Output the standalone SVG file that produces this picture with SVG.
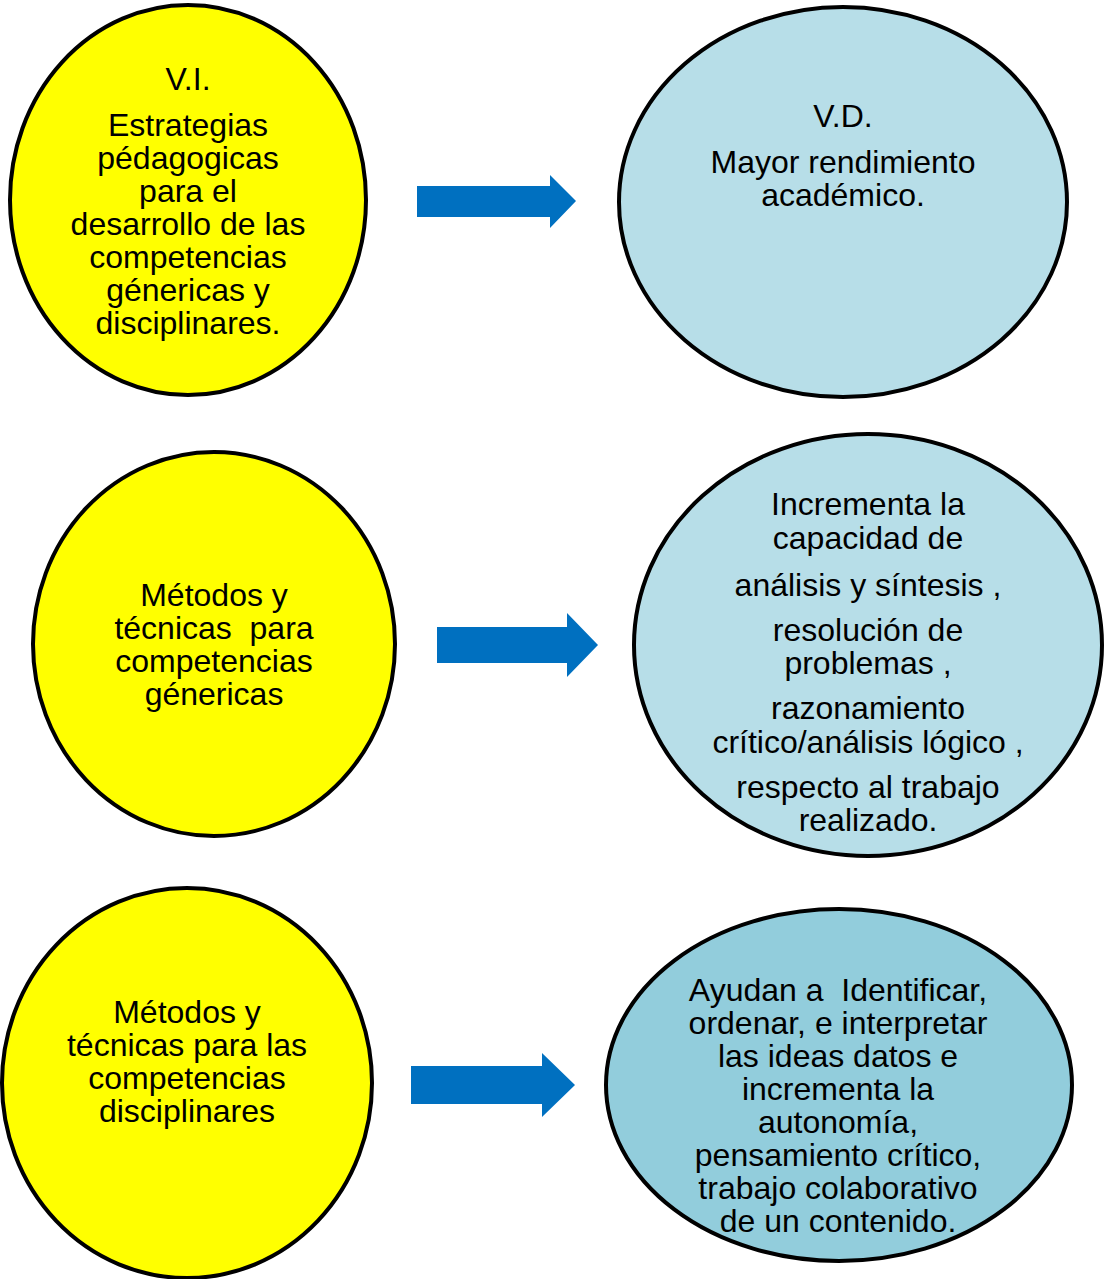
<svg xmlns="http://www.w3.org/2000/svg" width="1105" height="1279" viewBox="0 0 1105 1279">
<style>
.n{stroke:#000;stroke-width:4}
.y{fill:#FFFF00}
.b{fill:#B7DEE8}
.d{fill:#92CDDC}
.a{fill:#0070C0}
text{font-family:"Liberation Sans",Arial,sans-serif;font-size:32px;fill:#000;text-anchor:middle}
</style>
<rect width="1105" height="1279" fill="#fff"/>
<g id="connectors">
<path class="a" d="M417,186 H550 V175 L576,201 L550,228 V217 H417 Z"/>
<path class="a" d="M437,627 H567 V613 L598,645 L567,677 V663 H437 Z"/>
<path class="a" d="M411,1066 H542 V1053 L575,1085 L542,1117 V1104 H411 Z"/>
</g>
<g id="vi">
<ellipse class="n y" cx="188" cy="200" rx="178" ry="195"/>
<text x="188" y="90">V.I.</text>
<text x="188" y="136">Estrategias</text>
<text x="188" y="169">pédagogicas</text>
<text x="188" y="202">para el</text>
<text x="188" y="235">desarrollo de las</text>
<text x="188" y="268">competencias</text>
<text x="188" y="301">génericas y</text>
<text x="188" y="334">disciplinares.</text>
</g>
<g id="vd">
<ellipse class="n b" cx="843" cy="202" rx="224" ry="195"/>
<text x="843" y="127">V.D.</text>
<text x="843" y="173">Mayor rendimiento</text>
<text x="843" y="206">académico.</text>
</g>
<g id="genericas">
<ellipse class="n y" cx="214" cy="644" rx="181" ry="192"/>
<text x="214" y="606">Métodos y</text>
<text x="214" y="639" xml:space="preserve">técnicas  para</text>
<text x="214" y="672">competencias</text>
<text x="214" y="705">génericas</text>
</g>
<g id="resultado-genericas">
<ellipse class="n b" cx="868" cy="645" rx="234" ry="211"/>
<text x="868" y="515">Incrementa la</text>
<text x="868" y="549">capacidad de</text>
<text x="868" y="596">análisis y síntesis ,</text>
<text x="868" y="641">resolución de</text>
<text x="868" y="674">problemas ,</text>
<text x="868" y="719">razonamiento</text>
<text x="868" y="753">crítico/análisis lógico ,</text>
<text x="868" y="798">respecto al trabajo</text>
<text x="868" y="831">realizado.</text>
</g>
<g id="disciplinares">
<ellipse class="n y" cx="187" cy="1083" rx="185" ry="195"/>
<text x="187" y="1023">Métodos y</text>
<text x="187" y="1056">técnicas para las</text>
<text x="187" y="1089">competencias</text>
<text x="187" y="1122">disciplinares</text>
</g>
<g id="resultado-disciplinares">
<ellipse class="n d" cx="839" cy="1085" rx="233" ry="176"/>
<text x="838" y="1001" xml:space="preserve">Ayudan a  Identificar,</text>
<text x="838" y="1034">ordenar, e interpretar</text>
<text x="838" y="1067">las ideas datos e</text>
<text x="838" y="1100">incrementa la</text>
<text x="838" y="1133">autonomía,</text>
<text x="838" y="1166">pensamiento crítico,</text>
<text x="838" y="1199">trabajo colaborativo</text>
<text x="838" y="1232">de un contenido.</text>
</g>
</svg>
